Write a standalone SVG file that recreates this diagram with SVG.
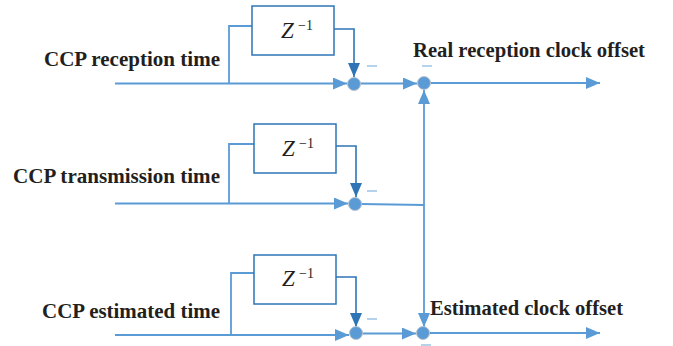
<svg xmlns="http://www.w3.org/2000/svg" width="673" height="346" viewBox="0 0 673 346">
<style>
.lbl{font-family:"Liberation Serif","Times New Roman",serif;font-weight:bold;font-size:20.5px;fill:#231f20}
.z{font-family:"Liberation Serif","Times New Roman",serif;font-style:italic;font-size:23px;fill:#231f20}
.sup{font-family:"Liberation Serif","Times New Roman",serif;font-size:14px;fill:#231f20}
.box{fill:#fff;stroke:#2e75b6;stroke-width:1.5}
.ln{fill:none;stroke:#5b9bd5;stroke-width:1.8}
.fb{fill:none;stroke:#2e75b6;stroke-width:1.6}
.node{fill:#5b9bd5;stroke:#b8c4cf;stroke-width:1}
.minus{stroke:#9dc3e6;stroke-width:1.5}
</style>
<defs>
<marker id="a" viewBox="0 0 14 12" refX="14" refY="6" markerWidth="14" markerHeight="12" markerUnits="userSpaceOnUse" orient="auto">
<path d="M0,0 L14,6 L0,12 Z" fill="#5b9bd5"/>
</marker>
<marker id="d" viewBox="0 0 14 12" refX="14" refY="6" markerWidth="14" markerHeight="12" markerUnits="userSpaceOnUse" orient="auto">
<path d="M0,0 L14,6 L0,12 Z" fill="#2e75b6"/>
</marker>
</defs>
<g id="connectors">
<path class="ln" d="M115,83.5 H347" marker-end="url(#a)"/>
<path class="ln" d="M229,83.5 V26 H252"/>
<path class="fb" d="M334,29 H354 V77" marker-end="url(#d)"/>
<path class="ln" d="M360,83.5 H417" marker-end="url(#a)"/>
<path class="ln" d="M430,83 H600" marker-end="url(#a)"/>

<path class="ln" d="M115,203.5 H348" marker-end="url(#a)"/>
<path class="ln" d="M229,203.5 V144 H254"/>
<path class="fb" d="M336,146 H356 V197" marker-end="url(#d)"/>
<path class="ln" d="M361,204 L424,205"/>

<path class="ln" d="M115,335 H349" marker-end="url(#a)"/>
<path class="ln" d="M231,335 V273 H254"/>
<path class="fb" d="M336,277 H356 V327" marker-end="url(#d)"/>
<path class="ln" d="M362,333.5 H416" marker-end="url(#a)"/>
<path class="ln" d="M429,333 H600" marker-end="url(#a)"/>

<path class="ln" d="M424,205 V90" marker-end="url(#a)"/>
<path class="ln" d="M424,205 V327" marker-end="url(#a)"/>
</g>
<g id="z1">
<rect class="box" x="252" y="6" width="82" height="49"/>
<text class="z" x="281" y="38">Z</text><text class="sup" x="298" y="30">−1</text>
</g>
<g id="z2">
<rect class="box" x="254" y="124" width="82" height="49"/>
<text class="z" x="282" y="156">Z</text><text class="sup" x="299" y="148">−1</text>
</g>
<g id="z3">
<rect class="box" x="254" y="255" width="82" height="49"/>
<text class="z" x="282" y="286">Z</text><text class="sup" x="299" y="278">−1</text>
</g>
<g id="sum1"><circle class="node" cx="354" cy="84" r="6.5"/><line class="minus" x1="367" y1="66" x2="377" y2="66"/></g>
<g id="sum2"><circle class="node" cx="424" cy="83" r="6.5"/><line class="minus" x1="422" y1="66" x2="432" y2="66"/></g>
<g id="sum3"><circle class="node" cx="355" cy="204" r="6.5"/><line class="minus" x1="367" y1="191" x2="377" y2="191"/></g>
<g id="sum4"><circle class="node" cx="356" cy="333" r="6.5"/><line class="minus" x1="367" y1="319" x2="377" y2="319"/></g>
<g id="sum5"><circle class="node" cx="423" cy="333" r="6.5"/><line class="minus" x1="421" y1="345" x2="431" y2="345"/></g>
<g id="labels">
<text class="lbl" x="44" y="66" textLength="176" lengthAdjust="spacingAndGlyphs">CCP reception time</text>
<text class="lbl" x="13" y="183" textLength="207" lengthAdjust="spacingAndGlyphs">CCP transmission time</text>
<text class="lbl" x="42" y="318" textLength="178" lengthAdjust="spacingAndGlyphs">CCP estimated time</text>
<text class="lbl" x="413" y="57" textLength="232" lengthAdjust="spacingAndGlyphs">Real reception clock offset</text>
<text class="lbl" x="430" y="315" textLength="193" lengthAdjust="spacingAndGlyphs">Estimated clock offset</text>
</g>
</svg>
